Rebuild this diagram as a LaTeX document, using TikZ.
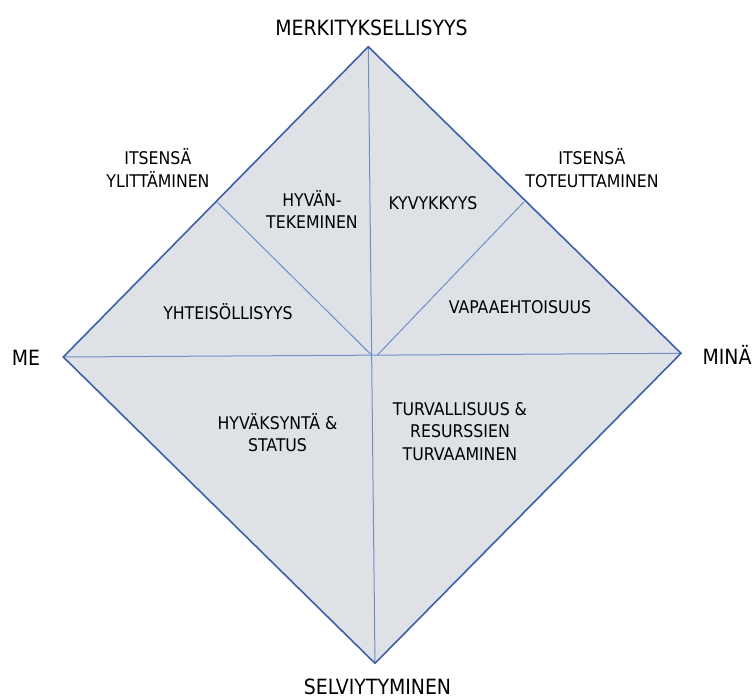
\documentclass[tikz,border=0pt]{standalone}
\usepackage{fontspec}
\setmainfont{DejaVu Sans Condensed}
\definecolor{fillc}{RGB}{222,226,230}
\definecolor{edgec}{RGB}{62,96,168}
\definecolor{innerc}{RGB}{112,142,200}
\begin{document}
\begin{tikzpicture}[x=1pt,y=-1pt,
  outerlbl/.style={font=\fontsize{21}{24}\selectfont, align=center, inner sep=0pt, text=black},
  innerlbl/.style={font=\fontsize{17.5}{22.5}\selectfont, align=center, inner sep=0pt, text=black},
  edge/.style={draw=edgec, line width=1.6pt, line join=miter},
  innerline/.style={draw=innerc, line width=1pt}]
\useasboundingbox (0,0) rectangle (753,699);
\fill[white] (0,0) rectangle (753,699);
\coordinate (T) at (368.3,46.7);
\coordinate (L) at (63.3,357);
\coordinate (R) at (681,353.3);
\coordinate (B) at (375,663.3);
\coordinate (C) at (372,355.5);
\coordinate (Cr) at (377,355.5);
\coordinate (UL) at (217.5,202.5);
\coordinate (UR) at (524,201.8);
\fill[fillc] (T) -- (R) -- (B) -- (L) -- cycle;
\draw[innerline] (T) -- (B);
\draw[innerline] (L) -- (R);
\draw[innerline] (UL) -- (C);
\draw[innerline] (UR) -- (Cr);
\draw[edge] (T) -- (R) -- (B) -- (L) -- cycle;
\node[outerlbl] (top) at (371.5,28) {MERKITYKSELLISYYS};
\node[outerlbl] (bot) at (377.5,686.5) {SELVIYTYMINEN};
\node[outerlbl] (me) at (26,358) {ME};
\node[outerlbl] (mina) at (727,355) {MINÄ};
\node[innerlbl] (ylit) at (158,168) {ITSENSÄ\\YLITTÄMINEN};
\node[innerlbl] (tot) at (592,168) {ITSENSÄ\\TOTEUTTAMINEN};
\node[innerlbl] (hyvan) at (312,209.5) {HYVÄN-\\TEKEMINEN};
\node[innerlbl] (kyv) at (433,203) {KYVYKKYYS};
\node[innerlbl] (yht) at (228,312) {YHTEISÖLLISYYS};
\node[innerlbl] (vap) at (520,307) {VAPAAEHTOISUUS};
\node[innerlbl] (hyvak) at (277.5,432.5) {HYVÄKSYNTÄ \&\\STATUS};
\node[innerlbl] (turv) at (460,431.5) {TURVALLISUUS \&\\RESURSSIEN\\TURVAAMINEN};
\end{tikzpicture}
\end{document}
